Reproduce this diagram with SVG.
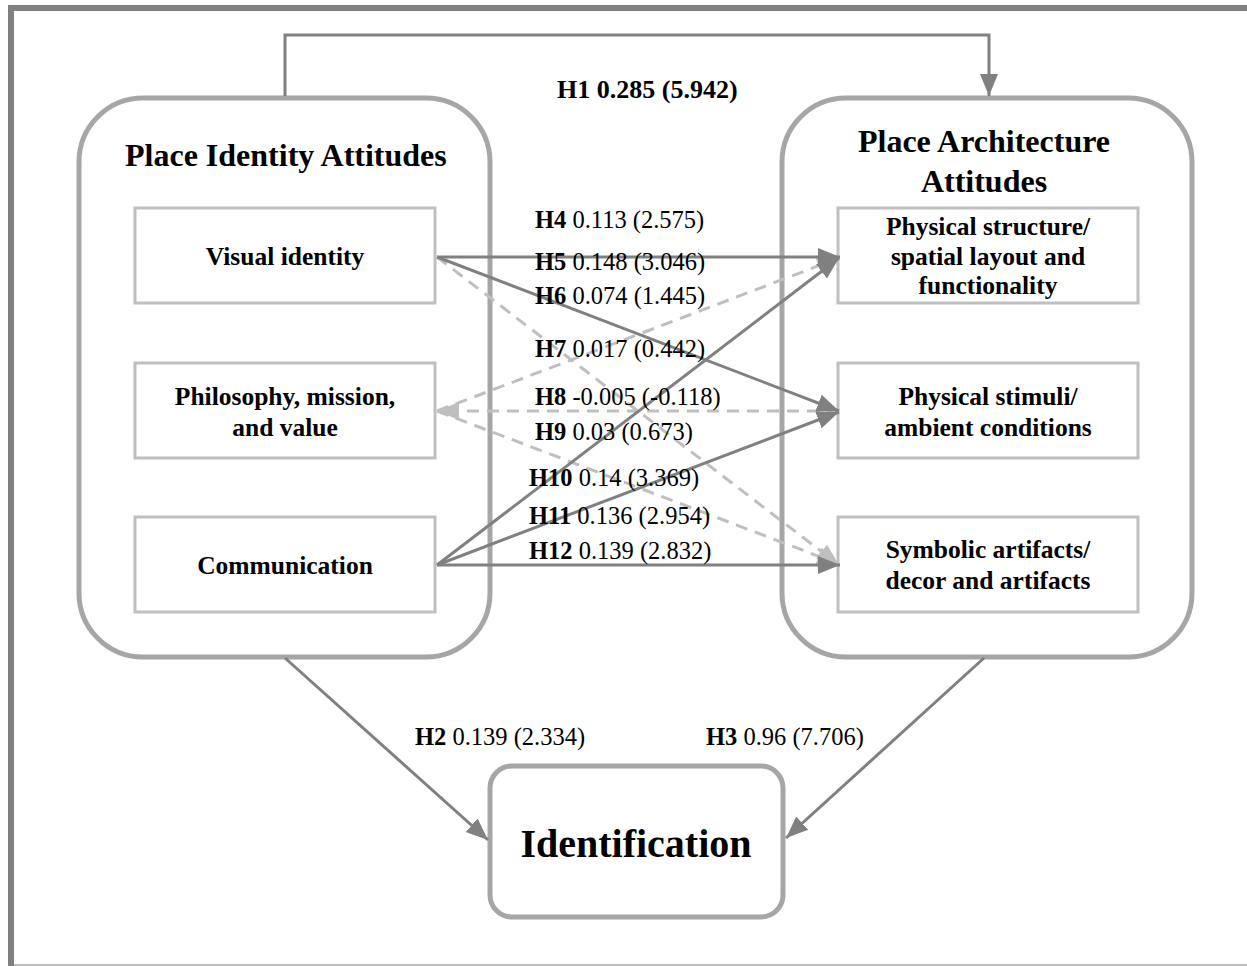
<svg xmlns="http://www.w3.org/2000/svg" width="1247" height="966" viewBox="0 0 1247 966">
<style>
text{font-family:"Liberation Serif","Times New Roman",serif;fill:#000}
.b{font-weight:bold}
.title{font-size:32px;font-weight:bold}
.node{font-size:25.5px;font-weight:bold;text-anchor:middle}
.lbl{font-size:24.5px}
.big{fill:#fff;stroke:#a6a6a6;stroke-width:5}
.inner{fill:#fff;stroke:#bfbfbf;stroke-width:3}
.solid{fill:none;stroke:#808080;stroke-width:3}
.dash{fill:none;stroke:#bfbfbf;stroke-width:3;stroke-dasharray:12 8}
</style>
<defs>
<marker id="ad" markerUnits="userSpaceOnUse" markerWidth="24" markerHeight="20" refX="22" refY="10" orient="auto">
<path d="M0,1 L22,10 L0,19 Z" fill="#808080"/>
</marker>
<marker id="al" markerUnits="userSpaceOnUse" markerWidth="24" markerHeight="20" refX="22" refY="10" orient="auto">
<path d="M0,1 L22,10 L0,19 Z" fill="#bfbfbf"/>
</marker>
</defs>
<rect width="1247" height="966" fill="#fff"/>
<g id="frame">
<line x1="8" y1="8" x2="1247" y2="8" stroke="#808080" stroke-width="6"/>
<line x1="11" y1="5" x2="11" y2="966" stroke="#808080" stroke-width="6"/>
<line x1="14" y1="965" x2="1247" y2="965" stroke="#bfbfbf" stroke-width="2"/>
</g>
<g id="place-identity">
<rect class="big" x="79" y="98" width="411" height="559" rx="64"/>
<text class="title" x="125" y="166">Place Identity Attitudes</text>
</g>
<g id="place-architecture">
<rect class="big" x="782" y="98" width="410" height="559" rx="64"/>
<text class="title" x="984" y="152" text-anchor="middle">Place Architecture</text>
<text class="title" x="984" y="192" text-anchor="middle">Attitudes</text>
</g>
<g id="visual-identity">
<rect class="inner" x="135" y="208" width="300" height="95"/>
<text class="node" x="285" y="265">Visual identity</text>
</g>
<g id="philosophy">
<rect class="inner" x="135" y="363" width="300" height="95"/>
<text class="node" x="285" y="405">Philosophy, mission,</text>
<text class="node" x="285" y="436">and value</text>
</g>
<g id="communication">
<rect class="inner" x="135" y="517" width="300" height="95"/>
<text class="node" x="285" y="574">Communication</text>
</g>
<g id="physical-structure">
<rect class="inner" x="838" y="208" width="300" height="95"/>
<text class="node" x="988" y="235">Physical structure/</text>
<text class="node" x="988" y="265">spatial layout and</text>
<text class="node" x="988" y="294">functionality</text>
</g>
<g id="physical-stimuli">
<rect class="inner" x="838" y="363" width="300" height="95"/>
<text class="node" x="988" y="405">Physical stimuli/</text>
<text class="node" x="988" y="436">ambient conditions</text>
</g>
<g id="symbolic-artifacts">
<rect class="inner" x="838" y="517" width="300" height="95"/>
<text class="node" x="988" y="558">Symbolic artifacts/</text>
<text class="node" x="988" y="589">decor and artifacts</text>
</g>
<g id="identification">
<rect class="big" x="490" y="766" width="293" height="151" rx="22"/>
<text x="636" y="857" text-anchor="middle" style="font-size:40px;font-weight:bold">Identification</text>
</g>
<g id="connectors">
<path class="solid" d="M285,96 V35 H989 V96" marker-end="url(#ad)"/>
<line class="dash" x1="437" y1="257" x2="839" y2="565" marker-end="url(#al)"/>
<line class="dash" x1="437" y1="411" x2="839" y2="258" marker-end="url(#al)"/>
<line class="dash" x1="839" y1="411" x2="437" y2="411" marker-end="url(#al)"/>
<line class="dash" x1="437" y1="411" x2="839" y2="564" marker-end="url(#al)"/>
<line class="solid" x1="437" y1="257" x2="840" y2="257" marker-end="url(#ad)"/>
<line class="solid" x1="437" y1="257" x2="839" y2="411" marker-end="url(#ad)"/>
<line class="solid" x1="437" y1="565" x2="839" y2="258" marker-end="url(#ad)"/>
<line class="solid" x1="437" y1="565" x2="839" y2="412" marker-end="url(#ad)"/>
<line class="solid" x1="437" y1="565" x2="840" y2="565" marker-end="url(#ad)"/>
<line class="solid" x1="285" y1="658" x2="488" y2="840" marker-end="url(#ad)"/>
<line class="solid" x1="984" y1="658" x2="786" y2="838" marker-end="url(#ad)"/>
</g>
<g id="labels">
<text class="b" x="557" y="98" style="font-size:26px">H1 0.285 (5.942)</text>
<text class="lbl" x="535" y="228"><tspan class="b">H4</tspan> 0.113 (2.575)</text>
<text class="lbl" x="535" y="270"><tspan class="b">H5</tspan> 0.148 (3.046)</text>
<text class="lbl" x="535" y="304"><tspan class="b">H6</tspan> 0.074 (1.445)</text>
<text class="lbl" x="535" y="357"><tspan class="b">H7</tspan> 0.017 (0.442)</text>
<text class="lbl" x="535" y="405"><tspan class="b">H8</tspan> -0.005 (-0.118)</text>
<text class="lbl" x="535" y="440"><tspan class="b">H9</tspan> 0.03 (0.673)</text>
<text class="lbl" x="529" y="486"><tspan class="b">H10</tspan> 0.14 (3.369)</text>
<text class="lbl" x="529" y="524"><tspan class="b">H11</tspan> 0.136 (2.954)</text>
<text class="lbl" x="529" y="559"><tspan class="b">H12</tspan> 0.139 (2.832)</text>
<text class="lbl" x="415" y="745"><tspan class="b">H2</tspan> 0.139 (2.334)</text>
<text class="lbl" x="706" y="745"><tspan class="b">H3</tspan> 0.96 (7.706)</text>
</g>
</svg>
